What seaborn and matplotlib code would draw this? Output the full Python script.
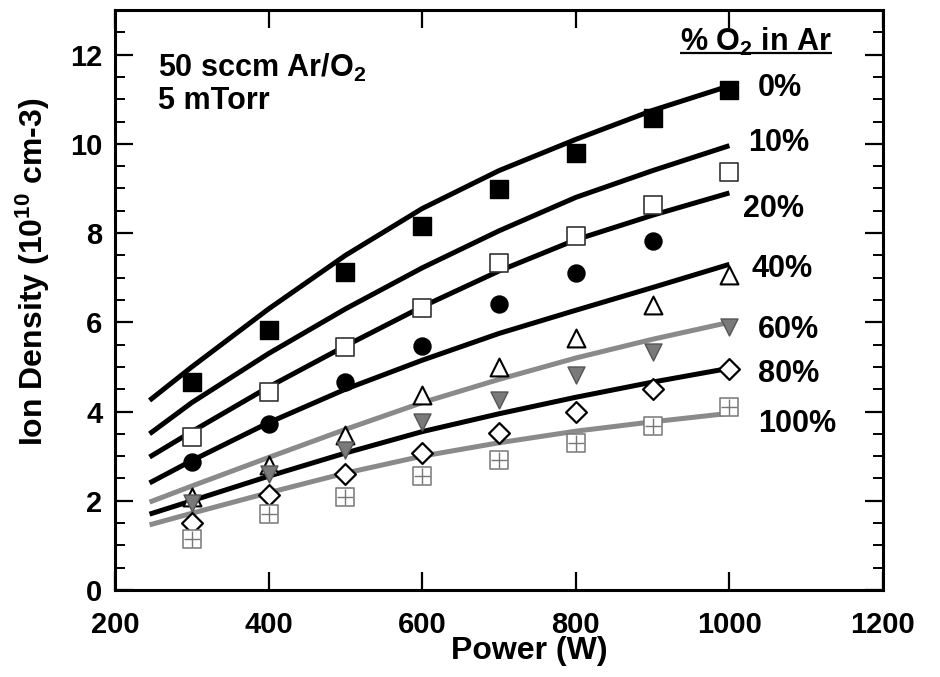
import numpy as np
import pandas as pd
import matplotlib
matplotlib.use("Agg")
import matplotlib.pyplot as plt
import seaborn as sns
from matplotlib.ticker import MultipleLocator

# ---------------- data ----------------
power_pts = [300, 400, 500, 600, 700, 800, 900, 1000]
d_0 = [4.66, 5.82, 7.12, 8.15, 8.98, 9.80, 10.58, 11.20]
d_10 = [3.43, 4.43, 5.44, 6.33, 7.32, 7.93, 8.62, 9.38]
d_20 = [2.87, 3.72, 4.66, 5.48, 6.40, 7.10, 7.83, np.nan]
d_40 = [2.08, 2.80, 3.47, 4.37, 4.99, 5.64, 6.38, 7.05]
d_60 = [1.95, 2.60, 3.13, 3.77, 4.25, 4.81, 5.33, 5.89]
d_80 = [1.50, 2.13, 2.60, 3.07, 3.52, 3.98, 4.50, 4.95]
d_100 = [1.14, 1.70, 2.08, 2.55, 2.91, 3.29, 3.67, 4.10]

power_fit = [245, 300, 400, 500, 600, 700, 800, 900, 1000]
f_0 = [4.25, 5.00, 6.30, 7.50, 8.55, 9.40, 10.10, 10.75, 11.30]
f_10 = [3.50, 4.20, 5.30, 6.30, 7.22, 8.05, 8.80, 9.40, 9.96]
f_20 = [2.98, 3.55, 4.55, 5.47, 6.35, 7.15, 7.85, 8.40, 8.90]
f_40 = [2.40, 2.90, 3.75, 4.50, 5.15, 5.75, 6.27, 6.78, 7.30]
f_60 = [1.97, 2.33, 2.97, 3.60, 4.20, 4.72, 5.20, 5.62, 6.00]
f_80 = [1.70, 2.00, 2.55, 3.07, 3.55, 3.95, 4.32, 4.66, 4.97]
f_100 = [1.46, 1.72, 2.18, 2.62, 3.00, 3.30, 3.56, 3.77, 3.96]

series_labels = ["0%", "10%", "20%", "40%", "60%", "80%", "100%"]
label_pos_x = [1037, 1024, 1018, 1029, 1037, 1037, 1038]
label_pos_y = [11.08, 9.85, 8.35, 7.01, 5.64, 4.66, 3.54]

x_ticks = [200, 400, 600, 800, 1000, 1200]
y_ticks = [0, 2, 4, 6, 8, 10, 12]

# ---------------- style ----------------
sns.set_style("ticks")
plt.rcParams["font.family"] = ["Liberation Sans", "DejaVu Sans"]
plt.rcParams["font.weight"] = "bold"
plt.rcParams["text.color"] = "black"
plt.rcParams["axes.labelcolor"] = "black"
plt.rcParams["xtick.color"] = "black"
plt.rcParams["ytick.color"] = "black"
plt.rcParams["mathtext.fontset"] = "custom"
plt.rcParams["mathtext.rm"] = "Liberation Sans:bold"
plt.rcParams["mathtext.it"] = "Liberation Sans:bold"
plt.rcParams["mathtext.bf"] = "Liberation Sans:bold"

fig = plt.figure(figsize=(9.4, 6.77), dpi=100)
ax = fig.add_axes([115 / 940, 87 / 677, 768 / 940, 580 / 677])

GRAY = "#8a8a8a"
line_colors = ["black", "black", "black", "black", GRAY, "black", GRAY]
fits = [f_0, f_10, f_20, f_40, f_60, f_80, f_100]
for f, c in zip(fits, line_colors):
    df = pd.DataFrame({"P": power_fit, "n": f})
    sns.lineplot(data=df, x="P", y="n", ax=ax, color=c, lw=3.6,
                 solid_capstyle="butt", solid_joinstyle="round", zorder=2)

ms = 150
def pts(vals):
    return pd.DataFrame({"P": power_pts, "n": vals}).dropna()

# 0% filled squares
sns.scatterplot(data=pts(d_0), x="P", y="n", ax=ax, marker="s", s=ms,
                color="black", edgecolor="black", linewidth=1, zorder=4)
# 10% open squares
sns.scatterplot(data=pts(d_10), x="P", y="n", ax=ax, marker="s", s=ms,
                facecolor="white", edgecolor="#333333", linewidth=1.2, zorder=4)
# 20% filled circles
sns.scatterplot(data=pts(d_20), x="P", y="n", ax=ax, marker="o", s=ms,
                color="black", edgecolor="black", linewidth=1, zorder=4)
# 40% open triangles
sns.scatterplot(data=pts(d_40), x="P", y="n", ax=ax, marker="^", s=ms * 1.1,
                facecolor="white", edgecolor="black", linewidth=1.5, zorder=4)
# 60% gray inverted triangles
sns.scatterplot(data=pts(d_60), x="P", y="n", ax=ax, marker="v", s=ms,
                color="#7a7a7a", edgecolor="#555555", linewidth=1, zorder=4)
# 80% open diamonds
sns.scatterplot(data=pts(d_80), x="P", y="n", ax=ax, marker="D", s=ms * 0.75,
                facecolor="white", edgecolor="black", linewidth=1.6, zorder=4)
# 100% gray crossed squares
sns.scatterplot(data=pts(d_100), x="P", y="n", ax=ax, marker="s", s=ms,
                facecolor="white", edgecolor="#777777", linewidth=1.1, zorder=4)
sns.scatterplot(data=pts(d_100), x="P", y="n", ax=ax, marker="+", s=ms * 0.8,
                color="#777777", linewidth=1.0, zorder=5)

# ---------------- axes ----------------
ax.set_xlim(200, 1200)
ax.set_ylim(0, 13)
ax.set_xticks(x_ticks)
ax.set_yticks(y_ticks)
ax.yaxis.set_minor_locator(MultipleLocator(0.5))
ax.tick_params(axis="both", which="major", direction="in", length=13, width=1.6,
               top=True, right=True, labelsize=21, colors="black")
ax.tick_params(axis="x", which="major", pad=15)
ax.tick_params(axis="y", which="major", pad=9)
ax.tick_params(axis="y", which="minor", direction="in", length=7, width=1.4,
               left=True, right=True, colors="black")
for lab in ax.get_xticklabels() + ax.get_yticklabels():
    lab.set_fontweight("bold")
for sp in ax.spines.values():
    sp.set_linewidth(2.2)
    sp.set_color("black")

ax.set_xlabel("Power (W)", fontsize=23, fontweight="bold")
ax.set_ylabel("Ion Density (10$^{10}$ cm-3)", fontsize=23, fontweight="bold")
ax.xaxis.set_label_coords(0.54, -0.08)
ax.yaxis.set_label_coords(-0.082, 0.548)

# ---------------- annotations ----------------
ax.text(256, 11.49, "50 sccm Ar/O$_2$", fontsize=22, fontweight="bold", va="baseline")
ax.text(256, 10.79, "5 mTorr", fontsize=22, fontweight="bold", va="baseline")

for lab, lx, ly in zip(series_labels, label_pos_x, label_pos_y):
    ax.text(lx, ly, lab, fontsize=22, fontweight="bold", va="baseline")

hdr = ax.text(936, 12.09, "% O$_2$ in Ar", fontsize=22, fontweight="bold", va="baseline")
fig.canvas.draw()
bb = hdr.get_window_extent()
inv = ax.transData.inverted()
x0 = inv.transform((bb.x0, 0))[0]
x1 = inv.transform((bb.x1, 0))[0]
ax.plot([x0, x1], [12.04, 12.04], color="black", lw=1.6, clip_on=False,
        solid_capstyle="butt")

sns.despine(ax=ax, top=False, right=False)
fig.savefig("out.png", dpi=100)
